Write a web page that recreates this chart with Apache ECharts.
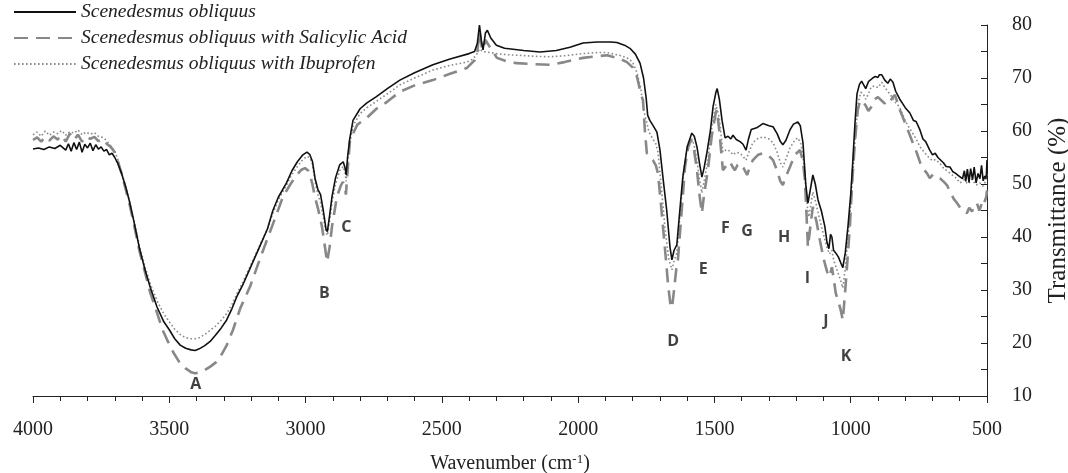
<!DOCTYPE html>
<html>
<head>
<meta charset="utf-8">
<script src="https://cdn.jsdelivr.net/npm/echarts@6/dist/echarts.min.js"></script>
<style>html,body{margin:0;padding:0;background:#fff}#c{width:1068px;height:473px}</style>
</head>
<body>
<div id="c"></div>
<script>
const seriesNames = ['Scenedesmus obliquus', 'Scenedesmus obliquus with Salicylic Acid', 'Scenedesmus obliquus with Ibuprofen'];
const xTicks = [4000, 3500, 3000, 2500, 2000, 1500, 1000, 500];
const yTicks = [10, 20, 30, 40, 50, 60, 70, 80];

const control = [[4000,56.6],[3980,56.8],[3960,56.5],[3940,57.0],[3920,56.7],[3900,57.3],[3880,56.4],[3870,57.6],[3860,56.2],[3850,57.8],[3840,56.5],[3830,57.9],[3820,56.0],[3810,57.5],[3800,56.8],[3790,57.7],[3780,56.3],[3770,57.4],[3760,56.6],[3750,57.0],[3740,56.2],[3730,56.5],[3720,55.5],[3710,55.8],[3700,55.0],[3690,54.0],[3675,52.0],[3660,49.5],[3645,46.5],[3630,43.0],[3610,38.0],[3590,34.0],[3570,30.5],[3545,26.8],[3520,24.0],[3500,22.5],[3480,20.8],[3460,19.6],[3440,19.0],[3420,18.7],[3405,18.6],[3390,18.9],[3370,19.5],[3350,20.3],[3330,21.5],[3310,22.8],[3290,24.3],[3270,26.5],[3250,29.0],[3230,31.0],[3200,34.5],[3170,38.0],[3140,41.5],[3120,45],[3100,47.5],[3070,50.2],[3050,52.5],[3030,54.2],[3010,55.5],[2995,56.0],[2985,55.6],[2975,54.3],[2965,51.0],[2955,49.0],[2945,48.0],[2935,45.0],[2925,41.5],[2920,41.0],[2912,44],[2903,47.6],[2890,51.2],[2875,53.6],[2862,54.2],[2855,53.0],[2851,51.7],[2846,55],[2838,58.5],[2826,62],[2800,64.2],[2775,65.3],[2740,66.5],[2700,68.0],[2654,69.6],[2600,71.0],[2533,72.5],[2470,73.6],[2400,74.6],[2380,75.0],[2370,76.5],[2362,80.0],[2355,77],[2349,75.3],[2340,78.5],[2333,79.0],[2320,77.5],[2300,76.2],[2270,75.6],[2200,75.2],[2140,74.9],[2080,75.2],[2030,75.8],[1982,76.6],[1930,76.8],[1880,76.8],[1858,76.7],[1830,76.2],[1810,75.6],[1790,74.5],[1773,72.8],[1760,70],[1750,66],[1745,63.0],[1737,62.0],[1725,61.0],[1711,59.8],[1700,56.5],[1689,51.3],[1675,45],[1663,38.1],[1656,35.7],[1648,37.5],[1638,38.5],[1627,45],[1616,51.3],[1600,57],[1583,59.6],[1574,59],[1564,57],[1555,54],[1546,51.3],[1538,53],[1528,55.8],[1515,60],[1505,64.6],[1495,67.2],[1490,68.0],[1482,66],[1472,62],[1461,58.7],[1450,59],[1440,58.5],[1432,59.2],[1420,58.4],[1406,58.0],[1395,57.5],[1384,56.4],[1375,58.5],[1365,60.3],[1345,60.6],[1322,61.4],[1300,61.0],[1285,60.8],[1270,59.5],[1258,58],[1249,57.4],[1238,58.2],[1223,60.2],[1210,61.3],[1194,61.7],[1185,61],[1175,57.7],[1165,50],[1157,46.4],[1148,49],[1139,51.7],[1130,50],[1120,47],[1108,45],[1095,42],[1087,39],[1080,37.8],[1074,40.5],[1069,40.0],[1063,37.5],[1055,37.0],[1045,36.2],[1037,35.2],[1029,34.2],[1020,37],[1010,42],[1000,48],[992,54.5],[985,61],[977,67],[968,68.8],[960,69.4],[955,69.2],[945,68.0],[935,69.3],[919,70.0],[910,70.3],[900,70.1],[895,70.6],[886,70.6],[875,69.6],[864,69.0],[855,69.8],[845,69.2],[835,67.5],[820,66.0],[810,65.2],[800,64.4],[783,63.4],[770,62.0],[760,61.8],[746,60.2],[735,58.5],[725,58],[710,56.4],[700,55.5],[690,55.8],[680,55],[673,55.1],[660,54.0],[650,53.3],[636,53.2],[625,52.3],[615,52.0],[605,51.6],[599,51.3],[590,51.0],[583,52.5],[578,50.5],[572,52.8],[566,50.3],[560,52.9],[553,50.8],[547,53.2],[540,50.2],[533,52.0],[526,51.0],[520,53.5],[514,50.6],[508,51.5],[504,51],[502,52],[500,54.5]];

const salicylic = [[4000,58.3],[3985,58.8],[3970,58.0],[3955,58.9],[3940,58.2],[3925,59.0],[3910,58.4],[3895,59.2],[3880,58.0],[3865,59.5],[3850,58.3],[3835,59.3],[3820,58.0],[3805,59.0],[3790,58.5],[3775,58.9],[3760,58.1],[3745,58.5],[3730,57.6],[3715,57.0],[3700,56.0],[3690,54.5],[3675,52.0],[3660,49.0],[3645,46.0],[3630,42.5],[3610,37.5],[3590,33.5],[3570,29.5],[3545,25.7],[3525,22.5],[3508,20.6],[3485,18.2],[3461,16.2],[3440,15.2],[3420,14.5],[3406,14.3],[3390,14.4],[3370,14.9],[3351,15.5],[3330,16.3],[3314,17.3],[3290,19.5],[3266,22.5],[3240,26.5],[3204,30.6],[3170,35.5],[3142,39.4],[3110,43.8],[3083,47.6],[3055,50.0],[3032,51.7],[3015,52.7],[3002,53.0],[2990,52.5],[2984,51.7],[2975,50],[2966,47.6],[2955,45.5],[2940,42],[2930,38.5],[2921,35.3],[2912,38],[2903,42],[2885,47.6],[2870,49.8],[2863,50.4],[2856,49.5],[2852,48],[2845,53],[2837,58.3],[2810,61.2],[2775,62.5],[2740,64.2],[2701,65.5],[2654,67.4],[2600,68.6],[2533,69.6],[2470,70.8],[2408,71.9],[2379,73.4],[2370,75],[2362,78.7],[2354,76],[2349,75.3],[2340,77.2],[2333,77.5],[2320,75.5],[2298,73.8],[2260,73.1],[2225,72.8],[2160,72.6],[2103,72.5],[2050,73],[1982,73.8],[1930,74.1],[1894,74.3],[1850,73.7],[1821,73.0],[1800,72],[1784,70.2],[1770,67],[1762,65.8],[1755,60],[1748,55.8],[1737,55],[1726,54.5],[1715,53.5],[1707,52],[1695,45.5],[1682,38.1],[1670,31],[1662,27.5],[1656,26.6],[1648,30],[1640,34],[1634,35.7],[1620,45],[1608,53.2],[1596,57],[1586,58.3],[1575,56.5],[1564,52.6],[1555,48],[1546,44.5],[1538,48],[1524,52.6],[1510,59],[1495,63.5],[1491,64],[1482,60],[1469,52.6],[1456,53.5],[1443,54.2],[1434,53.3],[1425,52.6],[1415,53.6],[1406,53.9],[1393,53],[1380,51.7],[1370,53.3],[1359,54.5],[1340,55.5],[1322,55.8],[1300,55.3],[1285,54.5],[1270,52.5],[1258,50.5],[1249,49.8],[1237,51.5],[1223,53.2],[1205,55.5],[1186,56.4],[1176,54.5],[1168,50.8],[1162,44],[1157,38.1],[1148,42],[1139,45.7],[1126,43],[1113,39.4],[1100,36],[1087,33.5],[1078,32.5],[1069,34.3],[1062,32],[1055,29.4],[1047,28.1],[1038,26.5],[1029,24.3],[1020,30],[1010,37],[1003,42],[995,50],[985,57.7],[974,64],[965,65.8],[955,65.5],[945,64.8],[935,63.8],[925,64.5],[912,66],[900,66.4],[888,65.8],[875,65.2],[865,65.8],[856,65.5],[846,66.4],[838,66.8],[829,65.5],[820,64],[808,62.5],[795,60.8],[783,59.2],[770,57.5],[757,55.8],[745,54],[733,52.8],[720,52],[710,51.1],[698,51.8],[688,51.5],[673,51.1],[660,50.5],[647,49.8],[635,48.5],[622,47.2],[610,46.4],[598,45.5],[585,44.8],[574,44.5],[565,45.5],[555,44.8],[546,46],[537,46.4],[528,45],[520,46.2],[515,45.7],[508,46.8],[503,47.5],[500,48.8]];

const ibuprofen = [[4000,59.3],[3985,59.8],[3970,59.0],[3955,60.0],[3940,59.2],[3925,59.8],[3910,59.5],[3895,60.1],[3880,59.2],[3865,59.9],[3850,59.6],[3835,60.2],[3820,59.3],[3805,59.8],[3790,59.4],[3775,59.7],[3760,59.0],[3745,58.8],[3730,58.2],[3715,57.2],[3700,56.2],[3690,54.8],[3675,52.2],[3660,49.5],[3645,46.5],[3630,43.2],[3610,38.5],[3590,34.5],[3570,31.2],[3545,28.0],[3520,25.5],[3500,24.0],[3480,22.6],[3460,21.6],[3440,21.0],[3420,20.8],[3405,20.8],[3390,21.0],[3370,21.6],[3350,22.4],[3330,23.2],[3310,24.3],[3290,25.5],[3270,27.3],[3250,29.5],[3230,31.5],[3200,34.8],[3170,38.2],[3140,41.5],[3120,44.5],[3100,47.0],[3070,49.8],[3050,51.8],[3030,53.3],[3010,54.6],[2995,55.2],[2985,55.0],[2975,53.8],[2965,50.5],[2955,48.0],[2945,46.5],[2935,43.8],[2925,40.8],[2920,40.3],[2912,43],[2903,46.5],[2890,50.0],[2875,52.5],[2862,53.3],[2855,52.0],[2851,50.5],[2846,54],[2838,57.5],[2826,61],[2800,63.3],[2775,64.4],[2740,65.6],[2700,67.0],[2654,68.7],[2600,70.0],[2533,71.5],[2470,72.4],[2408,73.0],[2385,73.6],[2372,74.5],[2362,75.5],[2350,75.0],[2335,74.9],[2300,74.6],[2260,74.4],[2225,74.3],[2160,74.1],[2103,74.0],[2050,74.2],[1982,74.6],[1930,74.8],[1894,74.8],[1850,74.3],[1821,73.8],[1800,73],[1784,71.0],[1770,68],[1760,64],[1750,62.0],[1740,59.8],[1726,58.5],[1715,57.6],[1707,56.0],[1695,49.5],[1682,42],[1668,36],[1656,33.8],[1648,35.5],[1638,37],[1625,45],[1612,52.5],[1598,57.5],[1586,58.8],[1575,57.5],[1564,54.5],[1555,51],[1546,48.3],[1538,50.5],[1524,54.5],[1510,60.5],[1495,65],[1491,65.3],[1482,62.5],[1469,56],[1456,56.5],[1443,56.2],[1432,55.5],[1420,56],[1406,55.8],[1395,55.2],[1384,54.5],[1372,56.2],[1359,57.8],[1340,58.6],[1322,58.9],[1300,58.5],[1285,57.8],[1270,56],[1258,54],[1249,53.2],[1237,54.8],[1223,56.8],[1205,58.3],[1194,58.7],[1182,57.5],[1170,53],[1160,46],[1154,43.8],[1145,46.5],[1139,48.5],[1128,46.5],[1115,43.5],[1100,40.5],[1087,38],[1078,36.8],[1069,37.5],[1062,35.5],[1055,34.5],[1045,33],[1037,31.8],[1029,30.4],[1020,34],[1010,40],[1000,46],[992,52],[982,60],[972,65.5],[963,67.3],[955,67.1],[945,66],[935,67],[925,68.3],[912,68.5],[900,68.2],[886,69.2],[875,68.2],[864,67.5],[850,66.5],[835,65.3],[820,64.5],[805,62.5],[790,61],[775,59.8],[760,58.5],[746,57.0],[733,56.2],[720,55.4],[710,54.8],[700,54.4],[690,54.6],[673,53.9],[660,53.0],[645,52.4],[630,51.8],[615,51.2],[599,50.2],[585,50.8],[570,50.0],[555,50.9],[540,49.8],[526,50.2],[515,49.6],[505,50.5],[500,52.0]];

const peakLetters = ['A','B','C','D','E','F','G','H','I','J','K'];
const peakWn = [3403, 2931, 2850, 1651, 1541, 1460, 1380, 1244, 1159, 1091, 1017];
const peakT = [12.2, 29.4, 41.8, 20.3, 33.9, 41.7, 41.0, 39.9, 32.2, 24.0, 17.4];

const peakData = peakLetters.map((l, i) => [peakWn[i], peakT[i], l]);

const serif = 'Liberation Serif';
const chart = echarts.init(document.getElementById('c'));
chart.setOption({
  animation: false,
  backgroundColor: '#fff',
  grid: { left: 33, right: 81, top: 25, bottom: 77, outerBoundsMode: 'none', containLabel: false },
  legend: {
    data: seriesNames,
    orient: 'vertical',
    left: 8,
    top: -3,
    itemWidth: 62,
    itemHeight: 14,
    itemGap: 6,
    itemStyle: { opacity: 0, borderWidth: 0 },
    textStyle: { fontFamily: serif, fontStyle: 'italic', fontSize: 19.5, color: '#222' }
  },
  xAxis: {
    type: 'value',
    inverse: true,
    min: 500,
    max: 4000,
    interval: 500,
    name: 'Wavenumber (cm{sup|-1})',
    nameLocation: 'middle',
    nameGap: 57,
    nameTextStyle: {
      fontFamily: serif, fontSize: 20, color: '#222',
      rich: { sup: { fontFamily: serif, fontSize: 13, color: '#222', verticalAlign: 'top', padding: [0, 0, 8, 0] } }
    },
    axisLine: { show: true, lineStyle: { color: '#222', width: 1 } },
    axisTick: { show: true, length: 7, lineStyle: { color: '#222' } },
    minorTick: { show: true, splitNumber: 5, length: 5, lineStyle: { color: '#222' } },
    splitLine: { show: false },
    axisLabel: { fontFamily: serif, fontSize: 20, color: '#222', margin: 24, formatter: v => xTicks.includes(v) ? String(v) : '' }
  },
  yAxis: {
    type: 'value',
    position: 'right',
    min: 10,
    max: 80,
    interval: 10,
    name: 'Transmittance (%)',
    nameLocation: 'middle',
    nameGap: 59,
    nameTextStyle: { fontFamily: serif, fontSize: 25, color: '#222' },
    axisLine: { show: true, lineStyle: { color: '#222', width: 1 } },
    axisTick: { show: true, inside: true, length: 6, lineStyle: { color: '#222' } },
    minorTick: { show: true, splitNumber: 2, length: 6, lineStyle: { color: '#222' } },
    splitLine: { show: false },
    axisLabel: { fontFamily: serif, fontSize: 20, color: '#222', margin: 25, formatter: v => yTicks.includes(v) ? String(v) : '' }
  },
  series: [
    { name: seriesNames[0], type: 'line', data: control, symbol: 'none', z: 4,
      lineStyle: { color: '#111', width: 1.6 }, itemStyle: { color: '#111' } },
    { name: seriesNames[1], type: 'line', data: salicylic, symbol: 'none', z: 3,
      lineStyle: { color: '#888', width: 2.6, type: [14, 8] }, itemStyle: { color: '#888' } },
    { name: seriesNames[2], type: 'line', data: ibuprofen, symbol: 'none', z: 2,
      lineStyle: { color: '#8a8a8a', width: 1.6, type: [1.6, 2.4] }, itemStyle: { color: '#8a8a8a' } },
    { name: 'peaks', type: 'scatter', data: peakData, symbolSize: 0, silent: true, z: 5,
      label: { show: true, position: 'inside', formatter: p => p.value[2],
        fontFamily: 'Open Sans', fontWeight: 'bold', fontSize: 16, color: '#111' } }
  ]
});
</script>
</body>
</html>
